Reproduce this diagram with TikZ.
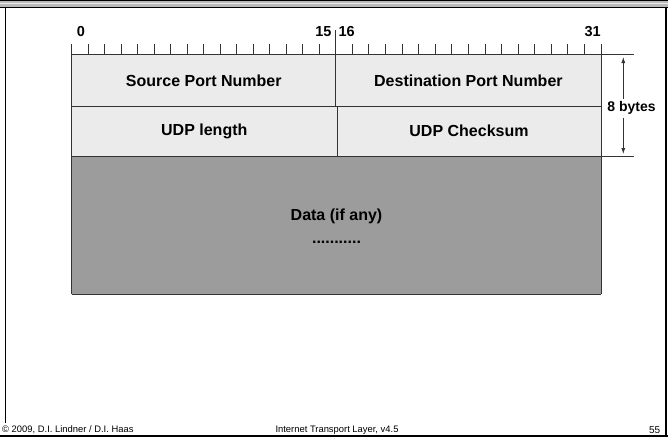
\documentclass[tikz,border=0pt]{standalone}
\usepackage{fontspec}
\setmainfont{Liberation Sans}
\usetikzlibrary{arrows.meta}
\definecolor{hdrfill}{HTML}{EBEBEB}
\definecolor{datafill}{HTML}{9C9C9C}
\definecolor{rule}{HTML}{333333}
\tikzset{
  fieldtext/.style={font=\fontsize{16}{19}\selectfont\bfseries, inner sep=0pt},
  bitnum/.style={font=\fontsize{14.5}{17}\selectfont\bfseries, inner sep=0pt, anchor=base},
  footer/.style={font=\fontsize{9.4}{11}\selectfont, inner sep=0pt, anchor=base},
  fieldline/.style={draw=rule, line width=0.9pt},
  tickline/.style={draw=rule, line width=0.8pt},
}
\begin{document}
\begin{tikzpicture}[x=1pt, y=-1pt]
\useasboundingbox (0,0) rectangle (668,437);

% title bar at the top of the slide
\fill[gray!55] (0,0) rectangle (668,8);
\fill[white!85!gray] (0,2.6) rectangle (668,4.2);
\draw[black, line width=0.9pt] (0,0.5) -- (668,0.5);
\draw[black, line width=1pt] (0,7.5) -- (668,7.5);

% slide frame
\draw[black, line width=1.4pt] (5.5,8) -- (5.5,423);
\draw[black, line width=1.4pt] (666,8) -- (666,437);
\draw[black, line width=1.2pt] (0,436) -- (668,436);

% header fields and data area
\fill[hdrfill] (71.7,54) rectangle (601,156);
\fill[datafill] (71.7,156) rectangle (601,294);

% bit ruler
\foreach \i in {0,...,15}
  \draw[tickline] ({71.7+\i*16.5},44) -- ({71.7+\i*16.5},54);
\foreach \i in {1,...,16}
  \draw[tickline] ({335.7+\i*16.58},44) -- ({335.7+\i*16.58},54);

% field borders
\draw[fieldline] (71.7,54) -- (634,54);
\draw[fieldline] (71.7,106) -- (601,106);
\draw[fieldline] (71.7,156) -- (634,156);
\draw[fieldline] (71.7,294) -- (601,294);
\draw[fieldline] (71.7,54) -- (71.7,294);
\draw[fieldline] (601,54) -- (601,294);
\draw[fieldline] (335.7,30) -- (335.7,106);
\draw[fieldline] (337,106) -- (337,156);

% bit numbers
\node[bitnum] (b0)  at (81,36.5) {0};
\node[bitnum, anchor=base east] (b15) at (331.7,36.5) {15};
\node[bitnum, anchor=base west] (b16) at (338.3,36.5) {16};
\node[bitnum, anchor=base east] (b31) at (601,36.5) {31};

% field labels
\node[fieldtext] (src) at (203.7,80.5) {Source Port Number};
\node[fieldtext] (dst) at (468.4,80.5) {Destination Port Number};
\node[fieldtext] (len) at (204.3,131) {UDP length};
\node[fieldtext] (chk) at (469,131) {UDP Checksum};
\node[fieldtext] (data) at (336.5,216.5) {Data (if any)};
\node[fieldtext, anchor=base] (dots) at (336.5,243.5) {...........};

% header length marker
\coordinate (htop) at (623.3,57);
\coordinate (hbot) at (623.3,154);
\draw[draw=rule, line width=0.8pt, {Latex[length=6pt,width=4pt]}-{Latex[length=6pt,width=4pt]}] (htop) -- (hbot);
\node[fill=white, inner sep=3pt, font=\fontsize{14}{17}\selectfont\bfseries] (hlen) at (631.6,108.3) {8 bytes};

% footer
\fill[white] (0,423) rectangle (665,435.4);
\node[footer, anchor=base west] (copy) at (2,432.7) {© 2009, D.I. Lindner / D.I. Haas};
\node[footer] (title) at (337,432.7) {Internet Transport Layer, v4.5};
\node[footer, anchor=base east, font=\fontsize{10}{12}\selectfont] (page) at (660.5,433.5) {55};
\end{tikzpicture}
\end{document}
